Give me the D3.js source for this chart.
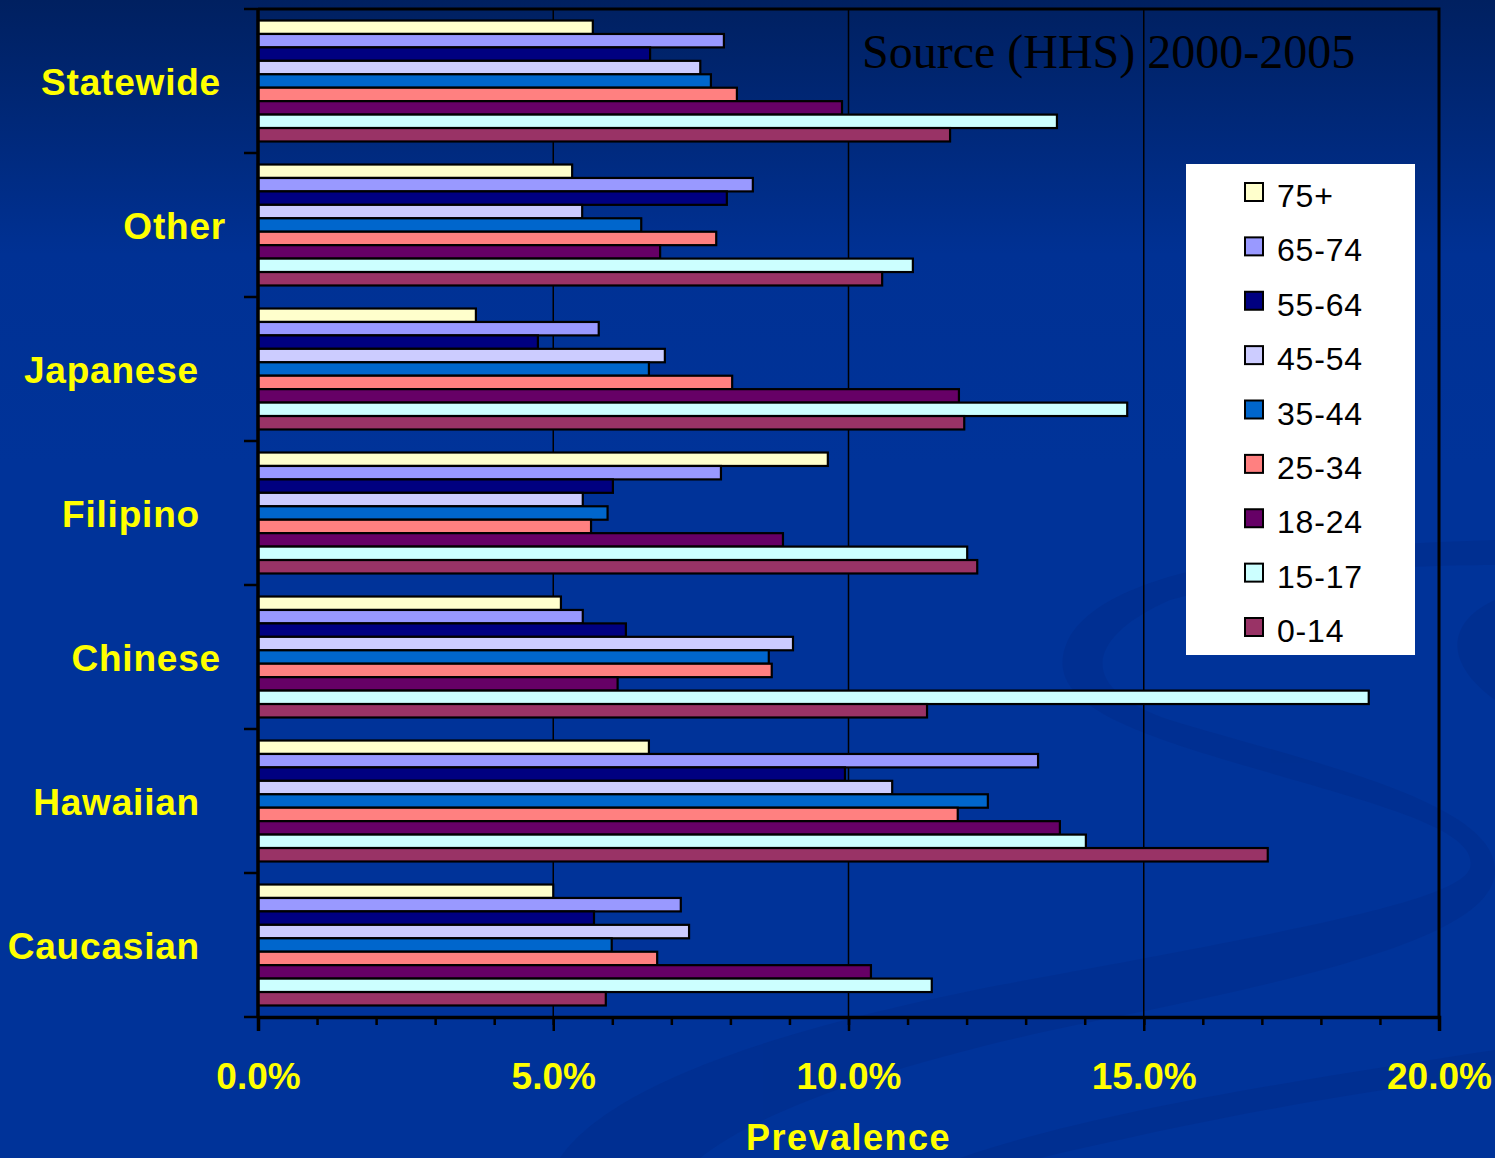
<!DOCTYPE html>
<html>
<head>
<meta charset="utf-8">
<script src="https://cdn.jsdelivr.net/npm/d3@7"></script>
<style>
  html, body { margin: 0; padding: 0; background: #003399; }
  svg { display: block; }
</style>
</head>
<body>
<svg id="chart" width="1495" height="1158"></svg>
<script>
// Ethnic groups, listed top to bottom
const categories = ["Statewide", "Other", "Japanese", "Filipino", "Chinese", "Hawaiian", "Caucasian"];
// Age groups, drawn top to bottom inside each ethnic group
const ageGroups = ["75+", "65-74", "55-64", "45-54", "35-44", "25-34", "18-24", "15-17", "0-14"];

// Prevalence (%) per age group, in the order of `categories`
const age75plus = [5.67, 5.32, 3.69, 9.65, 5.13, 6.62, 5.00];
const age65to74 = [7.89, 8.38, 5.77, 7.84, 5.50, 13.21, 7.16];
const age55to64 = [6.64, 7.94, 4.74, 6.01, 6.23, 9.94, 5.69];
const age45to54 = [7.49, 5.49, 6.89, 5.50, 9.06, 10.74, 7.30];
const age35to44 = [7.67, 6.49, 6.62, 5.92, 8.65, 12.36, 5.99];
const age25to34 = [8.11, 7.76, 8.03, 5.64, 8.70, 11.85, 6.76];
const age18to24 = [9.89, 6.81, 11.87, 8.89, 6.09, 13.58, 10.38];
const age15to17 = [13.53, 11.09, 14.72, 12.01, 18.81, 14.02, 11.41];
const age0to14 = [11.72, 10.57, 11.96, 12.18, 11.33, 17.10, 5.89];

const xTickValues = [0, 5, 10, 15, 20];
const xMinorTicks = d3.range(0, 21, 1);

const seriesValues = [age75plus, age65to74, age55to64, age45to54, age35to44,
                      age25to34, age18to24, age15to17, age0to14];

const colors = ["#ffffcc", "#9999ff", "#000080", "#ccccff", "#0066cc",
                "#ff8080", "#660066", "#ccffff", "#993366"];

// horizontal nudge of each group label (layout only)
const labelNudge = [21, 26, -1, 0, 21, 0, 0];

const svg = d3.select("#chart");
const W = 1495, H = 1158;
const plot = { left: 258, right: 1439, top: 9, bottom: 1017 };

// ---- slide background ----
const defs = svg.append("defs");
const bg = defs.append("linearGradient").attr("id", "bg")
  .attr("x1", 0).attr("y1", 0).attr("x2", 0).attr("y2", 1);
bg.append("stop").attr("offset", "0%").attr("stop-color", "#002060");
bg.append("stop").attr("offset", "22%").attr("stop-color", "#003194");
bg.append("stop").attr("offset", "40%").attr("stop-color", "#003399");
bg.append("stop").attr("offset", "100%").attr("stop-color", "#003399");
svg.append("rect").attr("width", W).attr("height", H).attr("fill", "url(#bg)");

// faint decorative swirl in the lower right
const deco = svg.append("g").attr("fill", "#002a86").attr("opacity", 0.4);
deco.append("path").attr("d",
  "M1495,540 C1330,545 1110,560 1068,640 C1040,700 1120,730 1260,770 " +
  "C1380,805 1480,830 1470,868 C1460,900 1300,930 1000,985 C720,1040 600,1100 560,1158 " +
  "L700,1158 C760,1110 900,1060 1100,1020 C1350,970 1495,930 1495,870 " +
  "C1495,800 1300,760 1170,720 C1080,690 1080,640 1170,600 C1280,570 1420,565 1495,565 Z");
deco.append("path").attr("d",
  "M1495,1050 C1300,1080 1100,1110 960,1158 L1040,1158 C1200,1120 1360,1090 1495,1075 Z");
deco.append("path").attr("d",
  "M1495,600 C1450,620 1440,660 1495,700 Z");

// ---- scales ----
const x = d3.scaleLinear().domain([0, 20]).range([plot.left, plot.right]);
const y0 = d3.scaleBand().domain(categories).range([plot.top, plot.bottom])
  .paddingInner(0.16).paddingOuter(0.08);
const y1 = d3.scaleBand().domain(ageGroups).range([0, y0.bandwidth()]);
const color = d3.scaleOrdinal().domain(ageGroups).range(colors);

// ---- gridlines ----
svg.append("g").selectAll("line").data([5, 10, 15]).join("line")
  .attr("x1", d => x(d)).attr("x2", d => x(d))
  .attr("y1", plot.top).attr("y2", plot.bottom)
  .attr("stroke", "#000").attr("stroke-width", 1.5);

// ---- bars ----
const rows = [];
categories.forEach((c, ci) => {
  ageGroups.forEach((a, ai) => rows.push({ cat: c, age: a, value: seriesValues[ai][ci] }));
});
svg.append("g").selectAll("rect").data(rows).join("rect")
  .attr("x", x(0))
  .attr("y", d => y0(d.cat) + y1(d.age))
  .attr("width", d => x(d.value) - x(0))
  .attr("height", y1.bandwidth())
  .attr("fill", d => color(d.age))
  .attr("stroke", "#000").attr("stroke-width", 2.2);

// ---- frame (top and right) ----
svg.append("path")
  .attr("d", `M${plot.left},${plot.top}H${plot.right}V${plot.bottom}`)
  .attr("fill", "none").attr("stroke", "#000").attr("stroke-width", 3);

// ---- x axis ----
const xMinor = d3.axisBottom(x).tickValues(xMinorTicks).tickSize(8).tickFormat("");
svg.append("g").attr("transform", `translate(0,${plot.bottom})`).call(xMinor)
  .call(g => g.select(".domain").remove())
  .call(g => g.selectAll("line").attr("stroke", "#000").attr("stroke-width", 2.5));

const xAxis = d3.axisBottom(x).tickValues(xTickValues).tickSize(14)
  .tickFormat(d => d.toFixed(1) + "%");
svg.append("g").attr("transform", `translate(0,${plot.bottom})`).call(xAxis)
  .call(g => g.select(".domain").attr("stroke", "#000").attr("stroke-width", 3.5))
  .call(g => g.selectAll("line").attr("stroke", "#000").attr("stroke-width", 2.5))
  .call(g => g.selectAll("text")
    .attr("y", 72).attr("dy", 0)
    .attr("fill", "#ffff00")
    .attr("font-family", "'Liberation Sans', Arial, sans-serif")
    .attr("font-weight", "bold")
    .attr("font-size", 37));

svg.append("text")
  .attr("x", (x(0) + x(20)) / 2).attr("y", 1150)
  .attr("text-anchor", "middle")
  .attr("fill", "#ffff00")
  .attr("font-family", "'Liberation Sans', Arial, sans-serif")
  .attr("font-weight", "bold").attr("font-size", 36)
  .attr("letter-spacing", 1.5)
  .text("Prevalence");

// ---- y axis ----
svg.append("line")
  .attr("x1", plot.left).attr("x2", plot.left)
  .attr("y1", plot.top).attr("y2", plot.bottom + 1)
  .attr("stroke", "#000").attr("stroke-width", 3.5);
const boundaries = categories.map(c => y0(c) - y0.step() * y0.paddingInner() / 2);
boundaries.push(plot.bottom);
boundaries[0] = plot.top;
svg.append("g").selectAll("line").data(boundaries).join("line")
  .attr("x1", plot.left - 14).attr("x2", plot.left)
  .attr("y1", d => d).attr("y2", d => d)
  .attr("stroke", "#000").attr("stroke-width", 2.5);

svg.append("g").selectAll("text").data(categories).join("text")
  .attr("x", (d, i) => 200 + labelNudge[i])
  .attr("y", d => y0(d) + y0.bandwidth() / 2 + 14)
  .attr("text-anchor", "end")
  .attr("fill", "#ffff00")
  .attr("font-family", "'Liberation Sans', Arial, sans-serif")
  .attr("font-weight", "bold").attr("font-size", 37)
  .attr("letter-spacing", 0.8)
  .text(d => d);

// ---- source note ----
svg.append("text")
  .attr("x", 862).attr("y", 68)
  .attr("fill", "#000")
  .attr("font-family", "'Liberation Serif', 'Times New Roman', serif")
  .attr("font-size", 48)
  .text("Source (HHS) 2000-2005");

// ---- legend ----
const legend = svg.append("g");
legend.append("rect")
  .attr("x", 1186).attr("y", 164).attr("width", 229).attr("height", 491)
  .attr("fill", "#fff");
const rowY = d3.scalePoint().domain(ageGroups).range([192, 627]);
const item = legend.selectAll("g.item").data(ageGroups).join("g").attr("class", "item")
  .attr("transform", d => `translate(0,${rowY(d)})`);
item.append("rect")
  .attr("x", 1245).attr("y", -9).attr("width", 18).attr("height", 18)
  .attr("fill", d => color(d)).attr("stroke", "#000").attr("stroke-width", 2);
item.append("text")
  .attr("x", 1277).attr("y", 15)
  .attr("fill", "#000")
  .attr("font-family", "'Liberation Sans', Arial, sans-serif")
  .attr("font-size", 32).attr("letter-spacing", 0.8)
  .text(d => d);
</script>
</body>
</html>
